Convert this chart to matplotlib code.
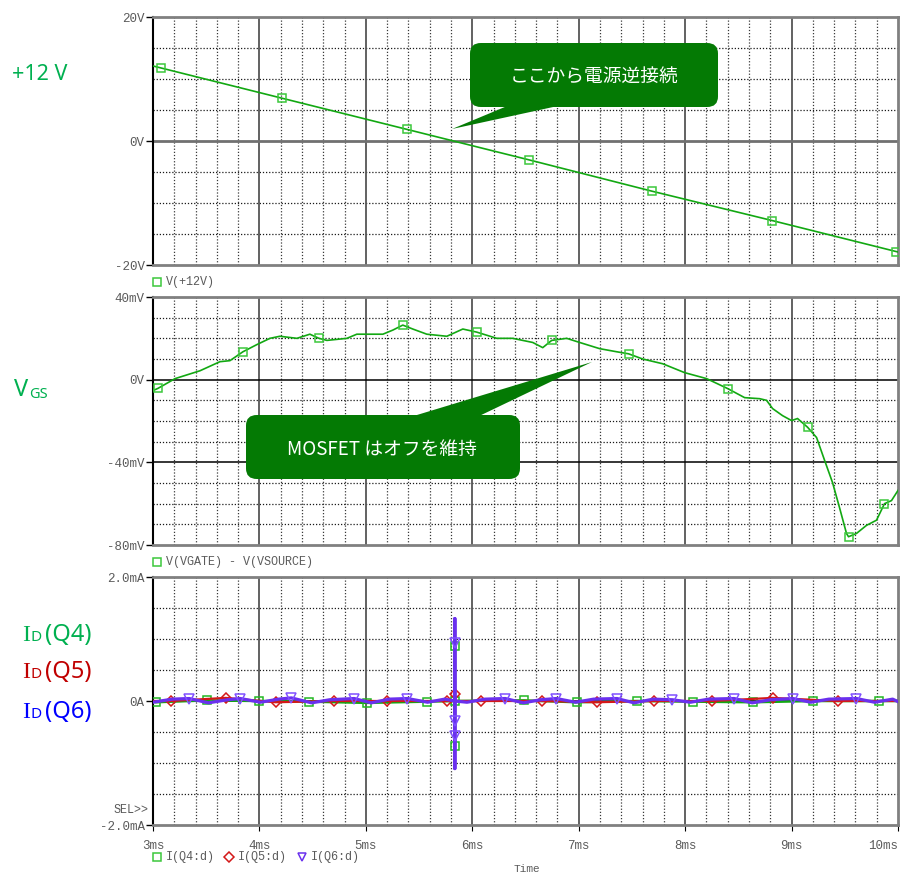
import matplotlib
matplotlib.use('Agg')
import matplotlib.pyplot as plt
from matplotlib.lines import Line2D
from matplotlib.patches import FancyBboxPatch, Polygon

plt.rcParams['font.family'] = ['Noto Sans CJK JP', 'DejaVu Sans']

W, H = 900, 876

# V(+12V) [V] vs time [ms]
t_v12 = [3.0, 3.075, 4.21, 5.385, 6.53, 7.685, 8.82, 9.985, 10.0]
v12 = [12.1, 11.78, 6.91, 1.88, -3.03, -8.08, -12.84, -17.84, -17.9]
v12_marks = [1, 2, 3, 4, 5, 6, 7]

# V(VGATE) - V(VSOURCE) [mV]
t_vgs = [3.000, 3.047, 3.207, 3.441, 3.629, 3.723, 3.845, 3.977, 4.099, 4.192,
         4.352, 4.474, 4.559, 4.634, 4.822, 4.915, 5.160, 5.254, 5.347, 5.441,
         5.573, 5.761, 5.911, 6.042, 6.230, 6.380, 6.568, 6.662, 6.746, 6.887,
         7.009, 7.197, 7.357, 7.469, 7.601, 7.789, 7.995, 8.202, 8.399, 8.559,
         8.700, 8.765, 8.822, 8.915, 9.000, 9.056, 9.150, 9.235, 9.310, 9.385,
         9.451, 9.516, 9.535, 9.610, 9.704, 9.798, 9.873, 9.939, 10.000]
vgs = [-5.3, -4.2, 0.5, 4.3, 8.7, 9.2, 13.5, 17.0, 20.0, 21.0,
       20.0, 22.0, 20.0, 19.0, 20.0, 22.0, 22.0, 24.0, 26.4, 24.5,
       22.0, 21.0, 24.5, 23.0, 20.0, 20.0, 18.0, 15.5, 19.0, 20.0,
       18.0, 15.0, 13.5, 12.5, 10.0, 7.7, 3.4, 0.5, -4.3, -8.7,
       -9.2, -10.0, -14.0, -17.4, -19.8, -18.8, -23.0, -28.0, -39.0, -49.8,
       -62.0, -74.4, -76.0, -74.4, -70.5, -68.0, -60.0, -58.5, -53.6]
vgs_marks = [1, 6, 12, 18, 23, 28, 33, 38, 46, 52, 56]

# drain currents [mA]
t_q4 = [3.00, 3.025, 3.507, 3.995, 4.465, 5.009, 5.573, 5.836, 5.836, 5.836,
        5.836, 6.484, 6.981, 7.545, 8.07, 8.634, 9.197, 9.817, 10.0]
q4 = [0.0, -0.02, 0.01, 0.0, -0.01, -0.03, -0.01, 0.0, 0.89, -0.73,
      0.0, 0.01, -0.02, 0.0, -0.01, -0.02, 0.0, 0.0, 0.0]
q4_marks = [1, 2, 3, 4, 5, 6, 7, 8, 9, 11, 12, 13, 14, 15, 16, 17]

t_q5 = [3.00, 3.166, 3.683, 4.152, 4.700, 5.197, 5.758, 5.836, 5.836, 5.836,
        6.086, 6.653, 7.169, 7.704, 8.249, 8.822, 9.432, 10.0]
q5 = [0.0, 0.0, 0.05, -0.02, 0.0, 0.0, 0.0, 0.0, 0.11, 0.0,
      0.0, 0.0, -0.02, 0.0, 0.0, 0.05, 0.0, 0.0]
q5_marks = [1, 2, 3, 4, 5, 6, 8, 10, 11, 12, 13, 14, 15, 16]

t_q6 = [3.00, 3.18, 3.34, 3.52, 3.70, 3.82, 4.01, 4.18, 4.30, 4.49,
        4.66, 4.89, 5.05, 5.22, 5.39, 5.58, 5.74, 5.836, 5.836, 5.836,
        5.836, 5.836, 5.836, 5.836, 5.95, 6.12, 6.31, 6.48, 6.64, 6.79,
        6.97, 7.14, 7.36, 7.52, 7.70, 7.88, 8.05, 8.22, 8.46, 8.63,
        8.80, 9.01, 9.18, 9.35, 9.61, 9.78, 9.95, 10.0]
q6 = [-0.02, 0.03, 0.04, -0.03, 0.02, 0.04, -0.02, 0.03, 0.05, -0.03,
      0.02, 0.04, -0.03, 0.03, 0.04, -0.02, 0.03, 0.0, 0.94, 1.33,
      -0.33, -1.09, -0.57, 0.0, -0.02, 0.03, 0.04, -0.03, 0.02, 0.04,
      -0.02, 0.03, 0.04, -0.03, 0.03, 0.02, -0.02, 0.03, 0.04, -0.03,
      0.02, 0.04, -0.02, 0.03, 0.04, -0.02, 0.03, -0.01]
q6_marks = [2, 5, 8, 11, 14, 18, 20, 22, 26, 29, 32, 35, 38, 41, 44]

ms_major = [3, 4, 5, 6, 7, 8, 9, 10]
ms_minor = [3.2, 3.4, 3.6, 3.8, 4.2, 4.4, 4.6, 4.8, 5.2, 5.4, 5.6, 5.8,
            6.2, 6.4, 6.6, 6.8, 7.2, 7.4, 7.6, 7.8, 8.2, 8.4, 8.6, 8.8,
            9.2, 9.4, 9.6, 9.8]

GREEN = '#12a812'
GREEN_MK = '#3cc83c'
RED = '#d41818'
PURPLE = '#6a30ee'
MONO = 'Liberation Mono'
GRAY_TXT = '#5a5a5a'

fig = plt.figure(figsize=(W / 100, H / 100), dpi=100)


def fx(x):
    return x / W


def fy(y):
    return 1 - y / H


def panel(top, bottom, ylim, yticks, ylabels, yminor, zero_style):
    ax = fig.add_axes([fx(153), fy(bottom), fx(898) - fx(153), (bottom - top) / H])
    ax.set_xlim(3, 10)
    ax.set_ylim(*ylim)
    ax.set_xticks(ms_major)
    ax.set_xticks(ms_minor, minor=True)
    ax.set_yticks(yticks)
    ax.set_yticks(yminor, minor=True)
    ax.set_yticklabels(ylabels, fontfamily=MONO, fontsize=9, color=GRAY_TXT)
    ax.tick_params(which='minor', length=0)
    ax.tick_params(axis='y', which='major', direction='out', length=5, width=1,
                   color='black', pad=1)
    dots = (0, (1, 1.5))
    for v in ms_minor:
        ax.axvline(v, color='#3a3a3a', lw=0.9, ls=dots, zorder=0.5)
    for v in ms_major[1:-1]:
        ax.axvline(v, color='#555555', lw=1.3, zorder=0.6)
    for v in yminor:
        ax.axhline(v, color='#1a1a1a', lw=0.9, ls=dots, zorder=0.5)
    for v in yticks[1:-1]:
        ax.axhline(v, zorder=0.6, **zero_style)
    for side in ['top', 'right', 'bottom']:
        ax.spines[side].set_color('#808080')
        ax.spines[side].set_linewidth(2)
    ax.spines['left'].set_color('black')
    ax.spines['left'].set_linewidth(1.5)
    return ax


# top panel: supply voltage
ax1 = panel(17, 265, (-20, 20), [-20, 0, 20], ['-20V', '0V', '20V'],
            [-15, -10, -5, 5, 10, 15], dict(color='#707070', lw=2))
ax1.plot(t_v12, v12, color=GREEN, lw=1.2, marker='s', markevery=v12_marks,
         ms=6, mfc='none', mec=GREEN_MK, mew=1.1, zorder=3)
ax1.tick_params(axis='x', length=0, labelbottom=False)

# middle panel: gate-source voltage
ax2 = panel(297, 545, (-80, 40), [-80, -40, 0, 40], ['-80mV', '-40mV', '0V', '40mV'],
            [-70, -60, -50, -30, -20, -10, 10, 20, 30], dict(color='black', lw=1.1))
ax2.plot(t_vgs, vgs, color=GREEN, lw=1.2, marker='s', markevery=vgs_marks,
         ms=6, mfc='none', mec=GREEN_MK, mew=1.1, zorder=3)
ax2.tick_params(axis='x', length=0, labelbottom=False)

# bottom panel: drain currents
ax3 = panel(577, 825, (-2, 2), [-2, 0, 2], ['-2.0mA', '0A', '2.0mA'],
            [-1.5, -1.0, -0.5, 0.5, 1.0, 1.5], dict(color='black', lw=1.1))
ax3.plot(t_q4, q4, color=GREEN, lw=1.8, marker='s', markevery=q4_marks,
         ms=6, mfc='none', mec='#22b822', mew=1.1, zorder=3)
ax3.plot(t_q5, q5, color=RED, lw=1.6, marker='D', markevery=q5_marks,
         ms=5, mfc='none', mec=RED, mew=1.1, zorder=4)
ax3.plot(t_q6, q6, color=PURPLE, lw=2.3, marker='v', markevery=q6_marks,
         ms=6.5, mfc='none', mec='#8050ff', mew=1.1, zorder=5)
ax3.tick_params(axis='x', which='major', direction='out', length=4, color='black', pad=7)
ax3.set_xticklabels([f'{m}ms' for m in ms_major], fontfamily=MONO, fontsize=9,
                    color=GRAY_TXT)
ax3.get_xticklabels()[-1].set_horizontalalignment('right')


# trace legends under each panel
def legend_item(x, y, marker, color, label, ms=6):
    fig.add_artist(Line2D([fx(x)], [fy(y)], marker=marker, ms=ms, mfc='none',
                          mec=color, mew=1.1, transform=fig.transFigure))
    fig.text(fx(x + 9), fy(y), label, fontfamily=MONO, fontsize=8.5,
             color=GRAY_TXT, va='center', ha='left')


legend_item(157, 282, 's', GREEN_MK, 'V(+12V)')
legend_item(157, 562, 's', GREEN_MK, 'V(VGATE) - V(VSOURCE)')
legend_item(157, 857, 's', GREEN_MK, 'I(Q4:d)')
legend_item(229, 857, 'D', RED, 'I(Q5:d)', ms=5)
legend_item(302, 857, 'v', PURPLE, 'I(Q6:d)')
fig.text(fx(527), fy(874), 'Time', fontfamily=MONO, fontsize=8, color=GRAY_TXT,
         ha='center', va='bottom')
fig.text(fx(148), fy(810), 'SEL>>', fontfamily=MONO, fontsize=8.5, color=GRAY_TXT,
         ha='right', va='center')

# signal names on the left
LBL_GREEN = '#00b050'
fig.text(fx(12), fy(74), '+12 V', fontsize=15.5, color=LBL_GREEN, va='center',
         fontfamily='Noto Sans')
fig.text(fx(14), fy(396), 'V', fontsize=17, color=LBL_GREEN, va='baseline',
         fontfamily='Noto Sans')
fig.text(fx(29), fy(398), 'GS', fontsize=10.5, color=LBL_GREEN, va='baseline',
         fontfamily='Noto Sans')
for base, name, col in [(641, '(Q4)', LBL_GREEN), (678, '(Q5)', '#c00000'),
                        (718, '(Q6)', '#0000ff')]:
    fig.text(fx(22), fy(base), 'I', fontsize=17, color=col, va='baseline',
             fontfamily='Liberation Serif')
    fig.text(fx(31), fy(base), 'D', fontsize=11, color=col, va='baseline',
             fontfamily='Noto Sans')
    fig.text(fx(45), fy(base), name, fontsize=17, color=col, va='baseline',
             fontfamily='Noto Sans')

# callouts
BOX = '#047a04'


def callout(x0, y0, x1, y1, tail, text, tx, ty):
    fig.add_artist(FancyBboxPatch((fx(x0), fy(y1)), fx(x1) - fx(x0), (y1 - y0) / H,
                                  boxstyle='round,pad=0,rounding_size=0.012',
                                  transform=fig.transFigure, fc=BOX, ec='none',
                                  zorder=10))
    fig.add_artist(Polygon([(fx(px), fy(py)) for px, py in tail], closed=True,
                           transform=fig.transFigure, fc=BOX, ec='none', zorder=10))
    fig.text(fx(tx), fy(ty), text, fontsize=13.5, color='white', ha='center',
             va='center', zorder=11)


callout(470, 43, 718, 107, [(512, 104), (567, 104), (452, 129)],
        'ここから電源逆接続', 594, 76)
callout(246, 415, 520, 479, [(407, 418), (475, 418), (592, 362)],
        'MOSFET はオフを維持', 382, 449)

fig.savefig('out.png', dpi=100)
